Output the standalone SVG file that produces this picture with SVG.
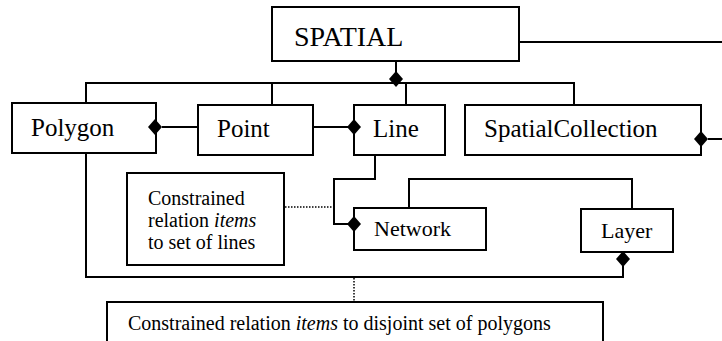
<svg xmlns="http://www.w3.org/2000/svg" width="722" height="341" viewBox="0 0 722 341">
<style>
.box{fill:#fff;stroke:#000;stroke-width:2}
.t{font-family:"Liberation Serif","Times New Roman",serif;fill:#000}
.c{fill:none;stroke:#000;stroke-width:2}
.d{fill:none;stroke:#000;stroke-width:1.5;stroke-dasharray:1.5 1.5}
.dia{fill:#000;stroke:none}
</style>
<defs>
<path id="dm" d="M0,-8 L7,0 L0,8 L-7,0 Z" class="dia"/>
</defs>
<g id="spatial">
<rect class="box" x="272" y="7" width="247" height="54"/>
<text class="t" x="294" y="46" font-size="28">SPATIAL</text>
</g>
<g id="polygon">
<rect class="box" x="12" y="103" width="144" height="50"/>
<text class="t" x="31" y="136" font-size="25">Polygon</text>
</g>
<g id="point">
<rect class="box" x="198" y="105" width="115" height="50"/>
<text class="t" x="217" y="137" font-size="25">Point</text>
</g>
<g id="line">
<rect class="box" x="354" y="105" width="91" height="50"/>
<text class="t" x="373" y="137" font-size="25">Line</text>
</g>
<g id="spatialcollection">
<rect class="box" x="465" y="105" width="236" height="50"/>
<text class="t" x="484" y="137" font-size="25">SpatialCollection</text>
</g>
<g id="network">
<rect class="box" x="354" y="208" width="132" height="42"/>
<text class="t" x="374" y="236" font-size="22">Network</text>
</g>
<g id="layer">
<rect class="box" x="581" y="209" width="92" height="43"/>
<text class="t" x="601" y="238" font-size="22">Layer</text>
</g>
<g id="note-lines">
<rect class="box" x="127" y="173" width="157" height="92"/>
<text class="t" font-size="20"><tspan x="148" y="205">Constrained</tspan><tspan x="148" y="227">relation <tspan font-style="italic">items</tspan></tspan><tspan x="148" y="249">to set of lines</tspan></text>
</g>
<g id="note-polygons">
<rect class="box" x="107" y="302" width="496" height="50"/>
<text class="t" x="128" y="330" font-size="20">Constrained relation <tspan font-style="italic">items</tspan> to disjoint set of polygons</text>
</g>
<g id="connectors">
<path class="c" d="M519,42 H722"/>
<path class="c" d="M396,62 V80"/>
<path class="c" d="M86,102 V83 H574 V104"/>
<path class="c" d="M272,83 V104"/>
<path class="c" d="M406,83 V104"/>
<path class="c" d="M162,127 H197"/>
<path class="c" d="M314,127 H348"/>
<path class="c" d="M708,139 H722"/>
<path class="c" d="M375,156 V179 H334 V224 H348"/>
<path class="c" d="M409,207 V179 H632 V208"/>
<path class="c" d="M86,154 V277 H623 V266"/>
<path class="d" d="M285,207 H334"/>
<path class="d" d="M354,278 V301"/>
<use href="#dm" x="396" y="79"/>
<use href="#dm" x="155" y="127"/>
<use href="#dm" x="354" y="127"/>
<use href="#dm" x="701" y="139"/>
<use href="#dm" x="354" y="224"/>
<use href="#dm" x="623" y="259"/>
</g>
</svg>
